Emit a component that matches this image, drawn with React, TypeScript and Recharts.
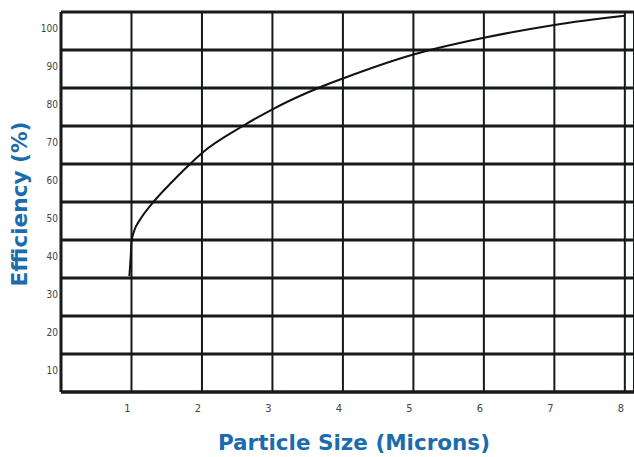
import { LineChart, Line, XAxis, YAxis, CartesianGrid } from 'recharts';

// particle size (microns) vs collection efficiency (%)
const sizes = [0.97, 0.99, 1.0, 1.04, 1.12, 1.32, 1.57, 1.82, 2, 2.58, 3, 3.65, 4, 5, 6, 7, 8];
const efficiency = [30.5, 36, 39.5, 42.5, 45.3, 50.2, 55.2, 59.8, 62.9, 70, 74.4, 80, 82.5, 88.8, 93.2, 96.6, 99];

const xTicks = [1, 2, 3, 4, 5, 6, 7, 8];
const yTicks = [0, 10, 20, 30, 40, 50, 60, 70, 80, 90, 100];

const data = sizes.map((s, i) => ({ size: s, eff: efficiency[i] }));

const BLUE = '#1b6cae';
const INK = '#161a1a';
const narrow = '"Liberation Sans Narrow", "DejaVu Sans Condensed", "Liberation Sans", sans-serif';

function YTick({ x, y, payload }: any) {
  if (payload.value === 0) return null;
  return (
    <text x={x + 5} y={y + 20} textAnchor="end" fontSize={10} fill="#444" fontFamily={narrow}>
      {payload.value}
    </text>
  );
}

function XTick({ x, y, payload }: any) {
  return (
    <text x={x - 4} y={y + 12} textAnchor="middle" fontSize={11} fill="#444" fontFamily={narrow}>
      {payload.value}
    </text>
  );
}

export default function App() {
  return (
    <div style={{ position: 'absolute', left: 0, top: 0, width: 634, height: 457, background: '#fff' }}>
      <LineChart width={634} height={457} data={data} margin={{ top: 12, right: 0, left: 0, bottom: 0 }}>
        <CartesianGrid horizontal vertical={false} stroke={INK} strokeWidth={3} strokeOpacity={1} />
        <CartesianGrid horizontal={false} vertical stroke={INK} strokeWidth={2} strokeOpacity={1} />
        <XAxis
          type="number"
          dataKey="size"
          domain={[0, 8.13]}
          ticks={xTicks}
          allowDataOverflow
          height={65}
          axisLine={{ stroke: INK, strokeWidth: 3 }}
          tickLine={false}
          tick={<XTick />}
          interval={0}
        />
        <YAxis
          type="number"
          domain={[0, 100]}
          ticks={yTicks}
          width={61}
          axisLine={{ stroke: INK, strokeWidth: 3 }}
          tickLine={false}
          tick={<YTick />}
          interval={0}
        />
        <Line
          type="monotone"
          dataKey="eff"
          stroke="#111"
          strokeWidth={2}
          dot={false}
          isAnimationActive={false}
        />
        <text
          x={354}
          y={450}
          textAnchor="middle"
          fontSize={21}
          fontWeight="bold"
          fill={BLUE}
          fontFamily={narrow}
          textLength={272}
          lengthAdjust="spacingAndGlyphs"
        >
          Particle Size (Microns)
        </text>
        <text
          x={20}
          y={204}
          transform="rotate(-90 20 204)"
          textAnchor="middle"
          dominantBaseline="central"
          fontSize={21}
          fontWeight="bold"
          fill={BLUE}
          fontFamily={narrow}
          textLength={165}
          lengthAdjust="spacingAndGlyphs"
        >
          Efficiency (%)
        </text>
      </LineChart>
    </div>
  );
}
